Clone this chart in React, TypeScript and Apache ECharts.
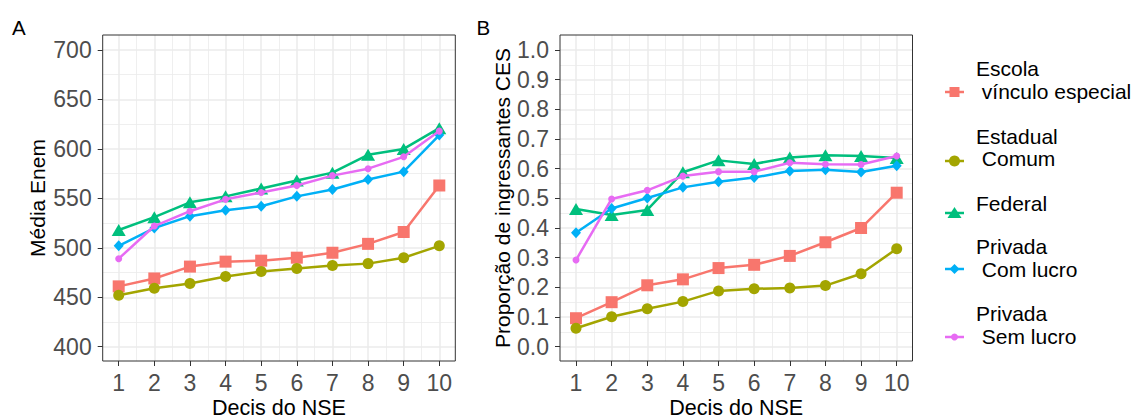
import React, { useEffect, useRef } from "react";
import * as echarts from "echarts";

// ---------- data ----------
const deciles = [1, 2, 3, 4, 5, 6, 7, 8, 9, 10];
const groupNames = [
  "Escola\n vínculo especial",
  "Estadual\n Comum",
  "Federal",
  "Privada\n Com lucro",
  "Privada\n Sem lucro",
];

const enemEscola = [461, 469, 481, 486, 487, 490, 495, 504, 516, 563];
const enemEstadual = [452, 459, 464, 471, 476, 479, 482, 484, 490, 502];
const enemFederal = [518, 531, 546, 552, 560, 568, 576, 594, 600, 621];
const enemComLucro = [502, 520, 532, 538, 542, 552, 559, 569, 577, 614];
const enemSemLucro = [489, 522, 537, 549, 556, 563, 573, 580, 592, 618];

const cesEscola = [0.096, 0.15, 0.207, 0.227, 0.265, 0.276, 0.306, 0.352, 0.4, 0.519];
const cesEstadual = [0.062, 0.101, 0.128, 0.152, 0.188, 0.195, 0.198, 0.206, 0.246, 0.33];
const cesFederal = [0.464, 0.444, 0.461, 0.588, 0.628, 0.616, 0.638, 0.645, 0.643, 0.636];
const cesComLucro = [0.384, 0.466, 0.501, 0.537, 0.556, 0.57, 0.592, 0.596, 0.589, 0.61];
const cesSemLucro = [0.292, 0.498, 0.527, 0.575, 0.59, 0.59, 0.62, 0.615, 0.614, 0.643];

const enemTicks = [400, 450, 500, 550, 600, 650, 700];
const cesTicks = ["0.0", "0.1", "0.2", "0.3", "0.4", "0.5", "0.6", "0.7", "0.8", "0.9", "1.0"];
const xTitle = "Decis do NSE";

// ---------- styles ----------
const FONT = "'Liberation Sans', Arial, Helvetica, sans-serif";
const groupColors = ["#F8766D", "#A3A500", "#00BF7D", "#00B0F6", "#E76BF3"];
const groupSymbols = ["rect", "circle", "triangle", "diamond", "circle"];
const groupSymbolSizes: any[] = [12, 11, [14, 12], [10, 11], 7];
const GRID_COLOR = "#EBEBEB";
const AXIS_TEXT = "#4D4D4D";
const BORDER = "#333333";

function buildOption() {
  const panelTop = 35;
  const panelBottom = 361;
  const panels = [
    {
      left: 102.7, right: 455.3, x1: 118.7, x10: 439.3, yTop: 50, yBot: 346.7,
      min: enemTicks[0], max: enemTicks[enemTicks.length - 1], interval: enemTicks[1] - enemTicks[0],
      fmt: (v: number) => String(v),
      data: [enemEscola, enemEstadual, enemFederal, enemComLucro, enemSemLucro],
      title: "Média Enem", titleX: 37.5, letter: "A", letterX: 12,
    },
    {
      left: 560, right: 912.5, x1: 576, x10: 896.7, yTop: 50, yBot: 346.7,
      min: 0, max: 1, interval: 0.1,
      fmt: (v: number) => cesTicks[Math.round(v * 10)] ?? "",
      data: [cesEscola, cesEstadual, cesFederal, cesComLucro, cesSemLucro],
      title: "Proporção de ingressantes CES", titleX: 502.5, letter: "B", letterX: 476.5,
    },
  ];

  const grid: any[] = [];
  const xAxis: any[] = [];
  const yAxis: any[] = [];
  const series: any[] = [];
  const graphic: any[] = [];

  const hidden = (extra: any) => ({ type: "value", show: false, ...extra });

  panels.forEach((p) => {
    const base = grid.length;
    // H grid: horizontal gridlines + y labels
    grid.push({ left: p.left, top: p.yTop, width: p.right - p.left, height: p.yBot - p.yTop, containLabel: false, outerBoundsMode: "none" });
    // V grid: vertical gridlines + x labels
    grid.push({ left: p.x1, top: panelTop, width: p.x10 - p.x1, height: panelBottom - panelTop, containLabel: false, outerBoundsMode: "none" });
    // D grid: data
    grid.push({ left: p.x1, top: p.yTop, width: p.x10 - p.x1, height: p.yBot - p.yTop, containLabel: false, outerBoundsMode: "none" });

    // H grid axes
    xAxis.push(hidden({ gridIndex: base, min: 0, max: 1 }));
    yAxis.push({
      type: "value", gridIndex: base, min: p.min, max: p.max, interval: p.interval,
      axisLine: { show: false },
      axisTick: { show: true, length: 5, lineStyle: { color: BORDER, width: 1 } },
      axisLabel: { show: true, margin: 11, color: AXIS_TEXT, fontSize: 23, fontFamily: FONT, formatter: p.fmt },
      splitLine: { show: true, lineStyle: { color: GRID_COLOR, width: 1.5 } },
      minorTick: { show: false, splitNumber: 2 },
      minorSplitLine: { show: true, lineStyle: { color: GRID_COLOR, width: 0.8 } },
    });
    // V grid axes
    xAxis.push({
      type: "value", gridIndex: base + 1, min: deciles[0], max: deciles[deciles.length - 1], interval: 1,
      position: "bottom",
      axisLine: { show: false, onZero: false },
      axisTick: { show: true, length: 5, lineStyle: { color: BORDER, width: 1 } },
      axisLabel: { show: true, margin: 10, color: AXIS_TEXT, fontSize: 23, fontFamily: FONT },
      splitLine: { show: true, lineStyle: { color: GRID_COLOR, width: 1.5 } },
      minorTick: { show: false, splitNumber: 2 },
      minorSplitLine: { show: true, lineStyle: { color: GRID_COLOR, width: 0.8 } },
    });
    yAxis.push(hidden({ gridIndex: base + 1, min: 0, max: 1 }));
    // D grid axes
    xAxis.push(hidden({ gridIndex: base + 2, min: deciles[0], max: deciles[deciles.length - 1] }));
    yAxis.push(hidden({ gridIndex: base + 2, min: p.min, max: p.max }));

    p.data.forEach((vals, gi) => {
      series.push({
        type: "line",
        name: groupNames[gi],
        xAxisIndex: base + 2,
        yAxisIndex: base + 2,
        data: deciles.map((d, i) => [d, vals[i]]),
        symbol: groupSymbols[gi],
        symbolSize: groupSymbolSizes[gi],
        showAllSymbol: true,
        clip: false,
        lineStyle: { color: groupColors[gi], width: 2.5 },
        itemStyle: { color: groupColors[gi], borderWidth: 0 },
        emphasis: { disabled: true },
        z: 3 + gi,
      });
    });

    // panel border
    graphic.push({
      type: "rect", z: 100, silent: true,
      shape: { x: p.left, y: panelTop, width: p.right - p.left, height: panelBottom - panelTop },
      style: { fill: "none", stroke: BORDER, lineWidth: 1 },
    });
    // y title
    graphic.push({
      type: "text", x: p.titleX, y: (panelTop + panelBottom) / 2, rotation: Math.PI / 2, silent: true,
      style: { text: p.title, fontSize: 21, fontFamily: FONT, fill: "#000", align: "center", verticalAlign: "middle", textAlign: "center", textVerticalAlign: "middle" },
    });
    // x title
    graphic.push({
      type: "text", x: (p.left + p.right) / 2, y: 407.5, silent: true,
      style: { text: xTitle, fontSize: 21.5, fontFamily: FONT, fill: "#000", align: "center", verticalAlign: "middle", textAlign: "center", textVerticalAlign: "middle" },
    });
    // panel letter
    graphic.push({
      type: "text", x: p.letterX, y: 27, silent: true,
      style: { text: p.letter, fontSize: 20.5, fontFamily: FONT, fill: "#000", align: "left", verticalAlign: "middle", textAlign: "left", textVerticalAlign: "middle" },
    });
  });

  // legend (drawn manually to match ggplot layout)
  const legendKeyY = [92, 161, 213, 269, 337];
  const legendTextY = [80, 147.5, 203.5, 258, 325];
  const keyX0 = 945, keyX1 = 964, cx = 954.5, textX = 976;
  groupNames.forEach((name, gi) => {
    const cy = legendKeyY[gi];
    const color = groupColors[gi];
    graphic.push({ type: "line", silent: true, shape: { x1: keyX0, y1: cy, x2: keyX1, y2: cy }, style: { stroke: color, lineWidth: 2.5 } });
    const sym = groupSymbols[gi];
    if (sym === "rect") {
      graphic.push({ type: "rect", silent: true, shape: { x: cx - 5, y: cy - 5, width: 10, height: 10 }, style: { fill: color } });
    } else if (sym === "triangle") {
      graphic.push({ type: "polygon", silent: true, shape: { points: [[cx, cy - 6], [cx + 7, cy + 5], [cx - 7, cy + 5]] }, style: { fill: color } });
    } else if (sym === "diamond") {
      graphic.push({ type: "polygon", silent: true, shape: { points: [[cx, cy - 5], [cx + 5, cy], [cx, cy + 5], [cx - 5, cy]] }, style: { fill: color } });
    } else {
      graphic.push({ type: "circle", silent: true, shape: { cx, cy, r: gi === 4 ? 3.5 : 5.5 }, style: { fill: color } });
    }
    graphic.push({
      type: "text", silent: true, x: textX, y: legendTextY[gi],
      style: { text: name, fontSize: 21, lineHeight: 22.5, fontFamily: FONT, fill: "#000", align: "left", verticalAlign: "middle", textAlign: "left", textVerticalAlign: "middle" },
    });
  });

  return {
    animation: false,
    backgroundColor: "#ffffff",
    textStyle: { fontFamily: FONT },
    grid,
    xAxis,
    yAxis,
    series,
    graphic: { elements: graphic },
  };
}

export default function App() {
  const ref = useRef<HTMLDivElement>(null);
  useEffect(() => {
    if (!ref.current) return;
    const chart = echarts.init(ref.current, null, { renderer: "svg" });
    chart.setOption(buildOption() as any);
    return () => chart.dispose();
  }, []);
  return (
    <div
      ref={ref}
      style={{ position: "fixed", left: 0, top: 0, width: 1136, height: 419, background: "#fff" }}
    />
  );
}
